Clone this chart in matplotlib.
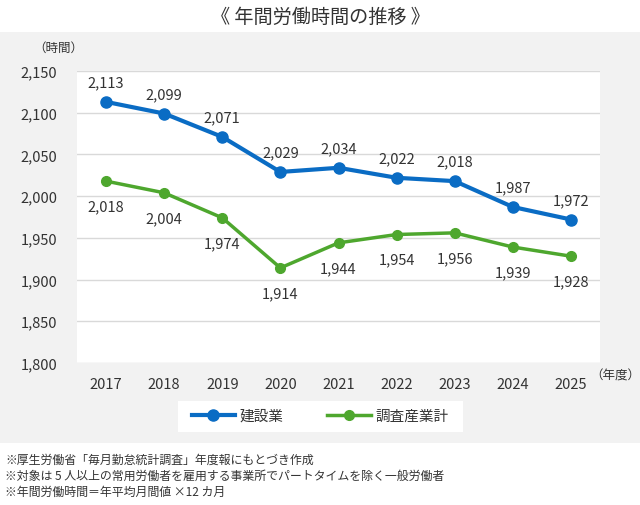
import matplotlib.pyplot as plt
from matplotlib.patches import Rectangle

plt.rcParams['font.family'] = ['Noto Sans CJK JP', 'DejaVu Sans']

years = [2017, 2018, 2019, 2020, 2021, 2022, 2023, 2024, 2025]
construction = [2113, 2099, 2071, 2029, 2034, 2022, 2018, 1987, 1972]
all_industries = [2018, 2004, 1974, 1914, 1944, 1954, 1956, 1939, 1928]
yticks = [1800, 1850, 1900, 1950, 2000, 2050, 2100, 2150]
notes = [
    "※厚生労働省「毎月勤怠統計調査」年度報にもとづき作成",
    "※対象は 5 人以上の常用労働者を雇用する事業所でパートタイムを除く一般労働者",
    "※年間労働時間＝年平均月間値 ×12 カ月",
]

blue = '#0a6cc4'
green = '#4ea72e'
txt = '#333333'

fig = plt.figure(figsize=(6.4, 5.06), dpi=100)
fig.patch.set_facecolor('white')
fig.patches.append(Rectangle((0, 62 / 506), 1, 411 / 506, transform=fig.transFigure,
                             facecolor='#f2f2f2', edgecolor='none', zorder=0))
fig.patches.append(Rectangle((178 / 640, 73 / 506), 285 / 640, 31 / 506, transform=fig.transFigure,
                             facecolor='white', edgecolor='none', zorder=1))

ax = fig.add_axes([77 / 640, 142 / 506, 523 / 640, 292 / 506])
ax.set_zorder(2)
ax.set_facecolor('white')
ax.set_xlim(2016.5, 2025.5)
ax.set_ylim(1800, 2150)
ax.set_yticks(yticks)
ax.set_yticklabels([f"{v:,}" for v in yticks])
ax.set_xticks(years)
ax.set_xticklabels([str(y) for y in years])
ax.tick_params(length=0, labelsize=10.5, colors=txt, pad=10)
ax.tick_params(axis='y', pad=14)
for s in ax.spines.values():
    s.set_visible(False)
ax.grid(axis='y', color='#d9d9d9', linewidth=1)
ax.set_axisbelow(True)

ax.plot(years, construction, color=blue, lw=3, marker='o', ms=8, label='建設業', zorder=3)
ax.plot(years, all_industries, color=green, lw=2.5, marker='o', ms=7, label='調査産業計', zorder=3)

for x, v in zip(years, construction):
    ax.annotate(f"{v:,}", (x, v), xytext=(0, 9), textcoords='offset points',
                ha='center', va='bottom', fontsize=10.5, color=txt)
for x, v in zip(years, all_industries):
    ax.annotate(f"{v:,}", (x, v), xytext=(0, -13), textcoords='offset points',
                ha='center', va='top', fontsize=10.5, color=txt)

fig.text(0.5, 1 - 17 / 506, "《 年間労働時間の推移 》", ha='center', va='center', fontsize=13.8, color=txt)
fig.text(58 / 640, 1 - 48 / 506, "（時間）", ha='center', va='center', fontsize=9, color=txt)
fig.text(615 / 640, 1 - 376 / 506, "（年度）", ha='center', va='center', fontsize=9, color=txt)

fig.legend(loc='center', bbox_to_anchor=(320 / 640, 1 - 417 / 506), ncol=2, frameon=False,
           fontsize=10.5, handlelength=3, columnspacing=3, labelcolor=txt, handletextpad=0.3)

for i, n in enumerate(notes):
    fig.text(5 / 640, 1 - (460 + 16 * i) / 506, n, ha='left', va='center', fontsize=8.6, color=txt)

fig.savefig('out.png', dpi=100)
